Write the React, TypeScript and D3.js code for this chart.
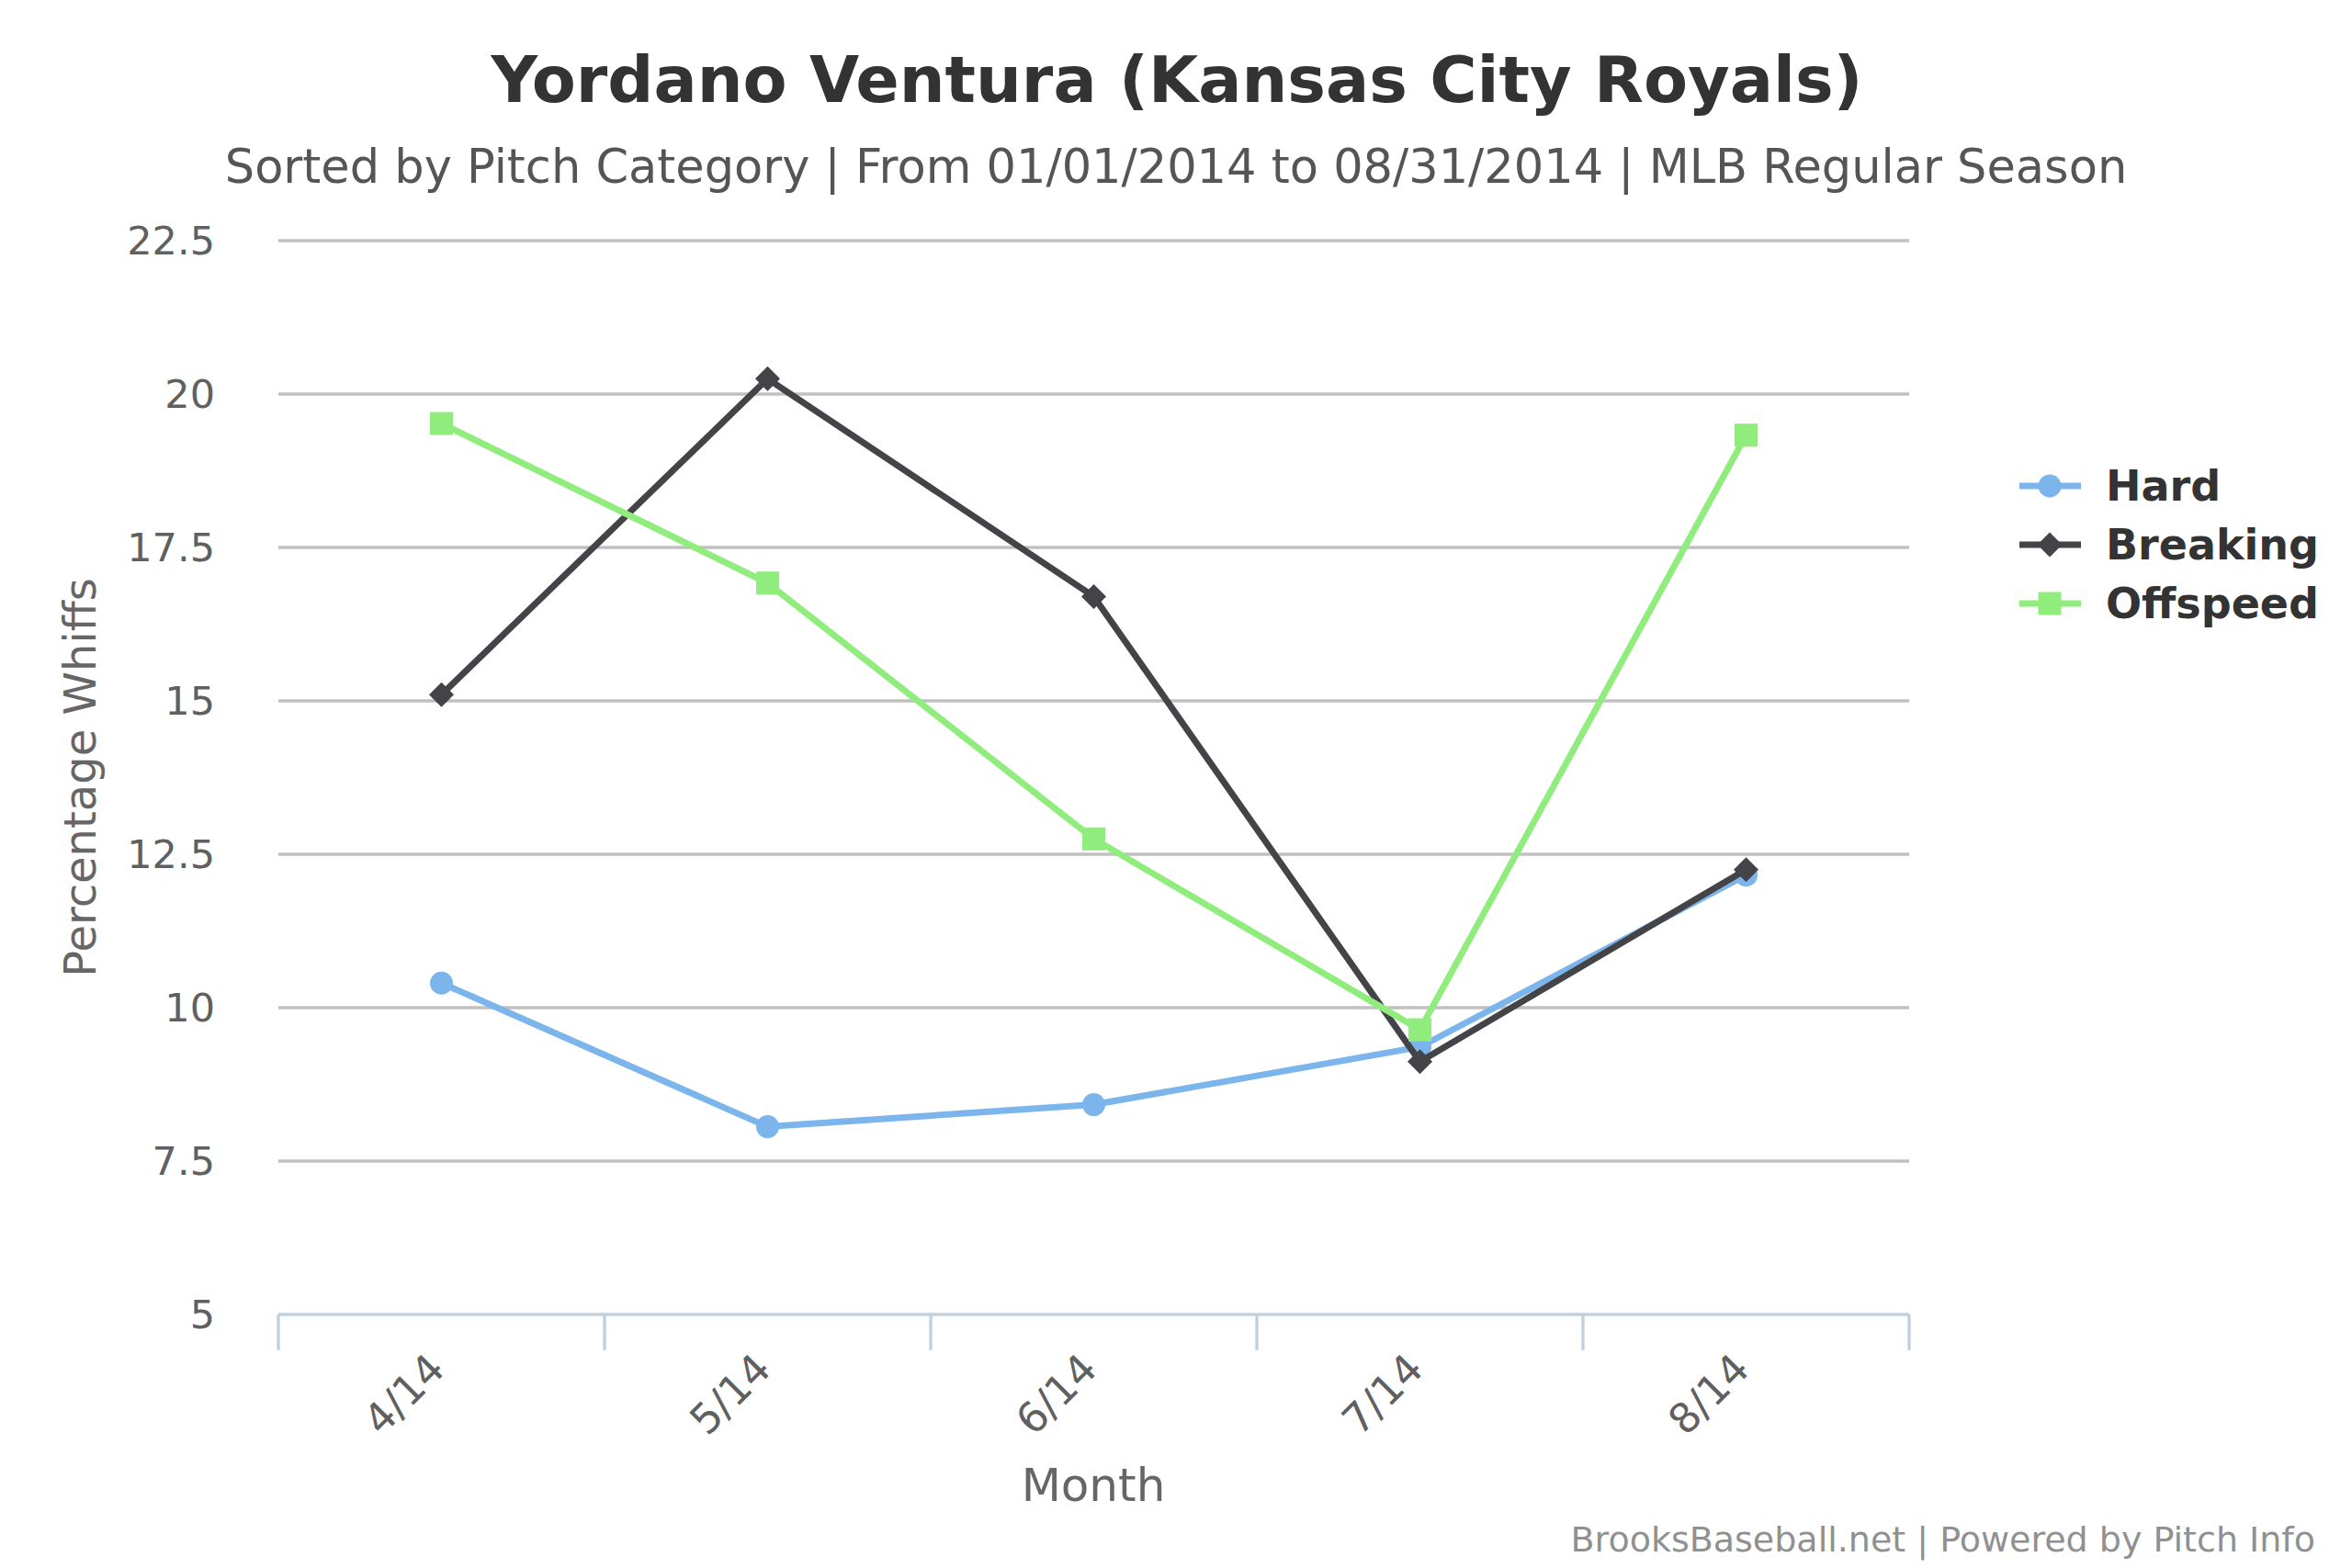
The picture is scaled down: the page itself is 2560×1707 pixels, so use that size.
import * as d3 from 'd3';

const months = ['4/14', '5/14', '6/14', '7/14', '8/14'];
const hard = [10.4, 8.06, 8.42, 9.36, 12.16];
const breaking = [15.1, 20.25, 16.7, 9.12, 12.25];
const offspeed = [19.52, 16.92, 12.75, 9.64, 19.33];
const yTicks = [5, 7.5, 10, 12.5, 15, 17.5, 20, 22.5];

const W = 2560;
const H = 1707;
const FONT = '"DejaVu Sans", Verdana, sans-serif';

const series = [
  { name: 'Hard', values: hard, color: '#7cb5ec', marker: 'circle' },
  { name: 'Breaking', values: breaking, color: '#434348', marker: 'diamond' },
  { name: 'Offspeed', values: offspeed, color: '#90ed7d', marker: 'square' },
];

function Marker({ kind, x, y, color }: { kind: string; x: number; y: number; color: string }) {
  if (kind === 'circle') return <circle cx={x} cy={y} r={12.5} fill={color} />;
  if (kind === 'square') return <rect x={x - 12.5} y={y - 12.5} width={25} height={25} fill={color} />;
  const r = 13.5;
  return <path d={`M${x},${y - r}L${x + r},${y}L${x},${y + r}L${x - r},${y}Z`} fill={color} />;
}

export default function App() {
  const left = 303;
  const right = 2078;
  const top = 262;
  const bottom = 1431;

  const x = d3.scaleBand().domain(months).range([left, right]).padding(0);
  const y = d3.scaleLinear().domain([5, 22.5]).range([bottom, top]);
  const cx = (m: string) => (x(m) || 0) + x.bandwidth() / 2;

  const line = d3
    .line<number>()
    .x((_, i) => cx(months[i]))
    .y((d) => y(d));

  const tickXs = [...months.map((m) => x(m) || 0), right];

  return (
    <svg
      width={W}
      height={H}
      style={{ position: 'absolute', left: 0, top: 0, background: '#fff' }}
      fontFamily={FONT}
    >
      <rect width={W} height={H} fill="#fff" />

      {/* 제목 */}
      <text x={1281} y={111} textAnchor="middle" fontSize={70} fontWeight="bold" fill="#333">
        Yordano Ventura (Kansas City Royals)
      </text>
      <text x={1280} y={199} textAnchor="middle" fontSize={51} fill="#555">
        Sorted by Pitch Category | From 01/01/2014 to 08/31/2014 | MLB Regular Season
      </text>

      {/* 그리드 */}
      {yTicks
        .filter((t) => t > 5)
        .map((t) => (
          <line key={t} x1={left} x2={right} y1={y(t)} y2={y(t)} stroke="#c0c0c0" strokeWidth={3.3} />
        ))}

      {/* Y축 라벨 */}
      {yTicks.map((t) => (
        <text key={t} x={234} y={y(t) + 15} textAnchor="end" fontSize={43} fill="#606060">
          {t}
        </text>
      ))}
      <text
        transform={`translate(104,${(top + bottom) / 2}) rotate(-90)`}
        textAnchor="middle"
        fontSize={48}
        fill="#666"
      >
        Percentage Whiffs
      </text>

      {/* X축 */}
      <line x1={left} x2={right} y1={bottom} y2={bottom} stroke="#c0d0e0" strokeWidth={3.5} />
      {tickXs.map((t, i) => (
        <line key={i} x1={t} x2={t} y1={bottom} y2={bottom + 39} stroke="#c0d0e0" strokeWidth={3.3} />
      ))}
      {months.map((m) => (
        <text
          key={m}
          transform={`translate(${cx(m) + 6},${bottom + 62}) rotate(-45)`}
          textAnchor="end"
          fontSize={45}
          fill="#606060"
        >
          {m}
        </text>
      ))}
      <text x={1190} y={1634} textAnchor="middle" fontSize={50} fill="#666">
        Month
      </text>

      {/* 시리즈 */}
      {series.map((s) => (
        <g key={s.name}>
          <path d={line(s.values) || ''} fill="none" stroke={s.color} strokeWidth={7} strokeLinejoin="round" />
          {s.values.map((v, i) => (
            <Marker key={i} kind={s.marker} x={cx(months[i])} y={y(v)} color={s.color} />
          ))}
        </g>
      ))}

      {/* 범례 */}
      {series.map((s, i) => {
        const ly = 529 + i * 64;
        return (
          <g key={s.name}>
            <line x1={2198} x2={2265} y1={ly} y2={ly} stroke={s.color} strokeWidth={7} />
            <Marker kind={s.marker} x={2231} y={ly} color={s.color} />
            <text x={2292} y={ly + 16} fontSize={46} fontWeight="bold" fill="#333">
              {s.name}
            </text>
          </g>
        );
      })}

      <text x={2520} y={1689} textAnchor="end" fontSize={38} fill="#909090">
        BrooksBaseball.net | Powered by Pitch Info
      </text>
    </svg>
  );
}
